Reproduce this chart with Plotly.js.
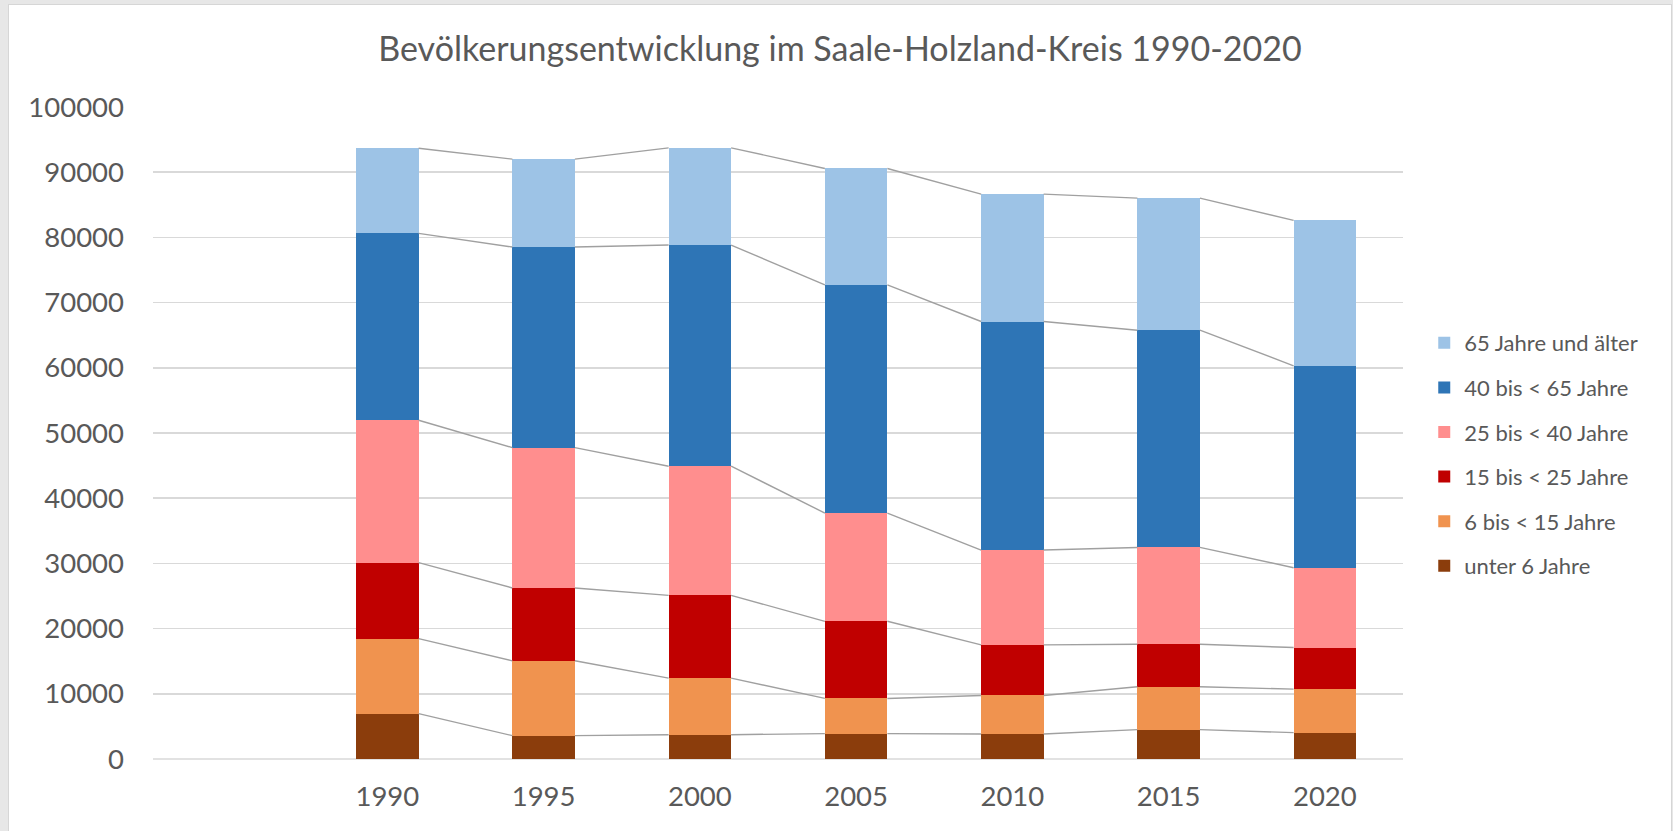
<!DOCTYPE html>
<html>
<head>
<meta charset="utf-8">
<script src="https://cdn.plot.ly/plotly-3.0.1.min.js"></script>
<style>
  html, body { margin: 0; padding: 0; background: #e7e7e7; width: 1673px; height: 831px; overflow: hidden; }
  #chart { position: absolute; left: 9px; top: 5px; width: 1662px; height: 826px; background: #fff; box-shadow: 0 0 0 1px #d6d6d6; }
</style>
</head>
<body>
<div id="chart"></div>
<script>
// Categories (first slot is empty in the source chart)
const categories = ["", "1990", "1995", "2000", "2005", "2010", "2015", "2020"];

// Series values (persons), bottom to top of the stack
const unter6   = [null, 6950, 3580, 3730, 3890, 3830, 4500, 4040];
const bis15    = [null, 11520, 11480, 8670, 5400, 5920, 6580, 6675];
const bis25    = [null, 11640, 11170, 12700, 11830, 7760, 6520, 6385];
const bis40    = [null, 21840, 21530, 19810, 16600, 14540, 14850, 12240];
const bis65    = [null, 28670, 30760, 33920, 34990, 35050, 33320, 30970];
const ab65     = [null, 13060, 13480, 14910, 17860, 19540, 20260, 22300];

const seriesNames = ["unter 6 Jahre", "6 bis < 15 Jahre", "15 bis < 25 Jahre",
                     "25 bis < 40 Jahre", "40 bis < 65 Jahre", "65 Jahre und älter"];
const seriesData = [unter6, bis15, bis25, bis40, bis65, ab65];
const seriesColors = ["#8B3D0C", "#F0934F", "#C00000", "#FF8E8E", "#2E75B6", "#9DC3E6"];

const yTicks = [0, 10000, 20000, 30000, 40000, 50000, 60000, 70000, 80000, 90000, 100000];

const barWidth = 0.4;
const idx = categories.map((c, i) => i);
const traces = [];

seriesData.forEach((vals, s) => {
  traces.push({
    type: "bar",
    x: idx,
    y: vals,
    width: barWidth,
    name: seriesNames[s],
    legendgroup: "g" + s,
    legendrank: 1000 - s,
    marker: { color: seriesColors[s], line: { width: 0 } },
    hoverinfo: "skip"
  });
});

// series lines connecting segment tops between neighbouring bars
const cum = [];
seriesData.forEach((vals, s) => {
  cum.push(vals.map((v, i) => v == null ? null : v + (s > 0 ? cum[s - 1][i] : 0)));
});
cum.forEach((top, s) => {
  const lx = [], ly = [];
  for (let i = 0; i < top.length - 1; i++) {
    if (top[i] == null || top[i + 1] == null) continue;
    lx.push(i + barWidth / 2, i + 1 - barWidth / 2, null);
    ly.push(top[i], top[i + 1], null);
  }
  traces.push({
    type: "scatter", mode: "lines", x: lx, y: ly,
    line: { color: "#A0A0A0", width: 1.4 },
    showlegend: false, hoverinfo: "skip"
  });
});

const textColor = "#595959";
const plotW = 1662, plotH = 826;
const mL = 144, mR = 268, mT = 101.7, mB = 72.3;

const layout = {
  width: plotW, height: plotH,
  paper_bgcolor: "#ffffff", plot_bgcolor: "#ffffff",
  margin: { l: mL, r: mR, t: mT, b: mB, pad: 0 },
  barmode: "stack",
  font: { family: "Lato, 'Open Sans', sans-serif", color: textColor },
  title: {
    text: "Bevölkerungsentwicklung im Saale-Holzland-Kreis 1990-2020",
    font: { size: 34, color: textColor, family: "Lato, sans-serif" },
    x: 0.5, xref: "container", xanchor: "center",
    y: 1 - 44.5 / plotH, yref: "container", yanchor: "middle"
  },
  xaxis: {
    type: "linear",
    range: [-0.5, categories.length - 0.5],
    tickmode: "array",
    tickvals: idx.filter(i => categories[i] !== ""),
    ticktext: categories.filter(c => c !== ""),
    showgrid: false, zeroline: false, showline: false,
    ticks: "", ticklabelstandoff: 18,
    tickfont: { size: 27.5, color: textColor }
  },
  yaxis: {
    range: [0, 100000],
    tickmode: "array",
    tickvals: yTicks,
    ticktext: yTicks.map(String),
    showgrid: true, gridcolor: "#D9D9D9", gridwidth: 1.5,
    zeroline: false, showline: false,
    ticks: "", ticklabelstandoff: 28,
    tickfont: { size: 27.5, color: textColor }
  },
  showlegend: true,
  legend: {
    x: 1.017, xanchor: "left",
    y: 0.467, yanchor: "middle",
    traceorder: "normal+grouped",
    tracegroupgap: 13,
    font: { size: 22, color: textColor },
    bgcolor: "rgba(0,0,0,0)",
    itemwidth: 30
  },
  shapes: [{
    type: "line", xref: "paper", yref: "paper", x0: 0, x1: 1, y0: 0, y1: 0,
    line: { color: "#D9D9D9", width: 1.5 }, layer: "below"
  }]
};

Plotly.newPlot("chart", traces, layout, { staticPlot: true, displayModeBar: false });
</script>
</body>
</html>
